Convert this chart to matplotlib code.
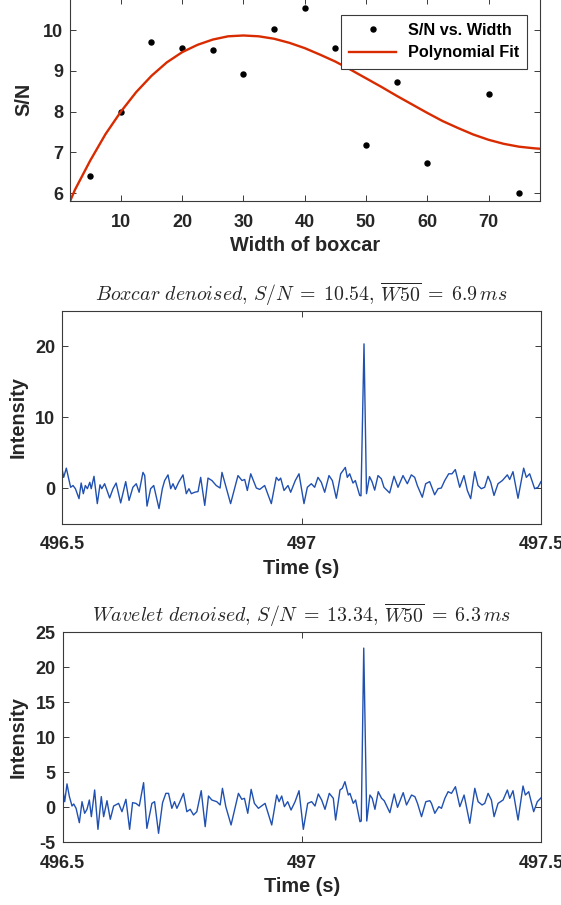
import numpy as np
import matplotlib
matplotlib.use('Agg')
import matplotlib.pyplot as plt

plt.rcParams['font.family'] = ['Liberation Sans', 'DejaVu Sans']
plt.rcParams['mathtext.fontset'] = 'cm'
plt.rcParams['axes.unicode_minus'] = False

##### data #####
# S/N vs. width of boxcar
width = [5, 10, 15, 20, 25, 30, 35, 40, 45, 50, 55, 60, 65, 70, 75]
snr = [6.43, 8.0, 9.72, 9.57, 9.51, 8.93, 10.03, 10.55, 9.57, 7.19, 8.74, 6.75, 9.11, 8.43, 6.01]

# polynomial fit curve (sampled from the figure)
fit_w = [1.7, 2.5, 5, 7.5, 10, 12.5, 15, 17.5, 20, 22.5, 25, 27.5, 30, 32.5, 35,
         37.5, 40, 42.5, 45, 47.5, 50, 52.5, 55, 57.5, 60, 62.5, 65, 67.5, 70,
         72.5, 75, 77.5, 78.4]
fit_snr = [5.8, 6.08, 6.8, 7.45, 8.0, 8.48, 8.88, 9.21, 9.46, 9.64, 9.77, 9.85, 9.87,
           9.85, 9.79, 9.69, 9.56, 9.4, 9.23, 9.03, 8.82, 8.61, 8.39, 8.18, 7.97,
           7.77, 7.6, 7.44, 7.31, 7.21, 7.14, 7.1, 7.09]

t0 = 496.5
# boxcar denoised series: time after t0 [s], intensity
boxcar_dt = [0.000, 0.0035, 0.009, 0.018, 0.023, 0.028, 0.0355, 0.040, 0.0445, 0.0487,
             0.053, 0.058, 0.061, 0.0668, 0.0737, 0.0793, 0.083, 0.089, 0.0995, 0.1065,
             0.113, 0.1225, 0.133, 0.140, 0.148, 0.155, 0.161, 0.169, 0.1727, 0.1775,
             0.185, 0.1915, 0.2025, 0.2095, 0.2143, 0.2213, 0.227, 0.2317, 0.2366, 0.2435,
             0.2526, 0.2595, 0.265, 0.270, 0.277, 0.284, 0.2895, 0.298, 0.3048, 0.313,
             0.322, 0.330, 0.334, 0.352, 0.3674, 0.3758, 0.3814, 0.3869, 0.394, 0.4057,
             0.4127, 0.4231, 0.437, 0.4474, 0.4524, 0.4565, 0.4635, 0.4718, 0.4774, 0.487,
             0.4948, 0.5052, 0.5122, 0.5205, 0.5275, 0.5344, 0.5414, 0.5484, 0.5574, 0.5644,
             0.5727, 0.5818, 0.5866, 0.5915, 0.5956, 0.6006, 0.6075, 0.6124, 0.6215, 0.6242,
             0.6305, 0.6357, 0.642, 0.6472, 0.6528, 0.6597, 0.6667, 0.6722, 0.684, 0.6931,
             0.7015, 0.7119, 0.7209, 0.7293, 0.7363, 0.7418, 0.7522, 0.7592, 0.7676, 0.778,
             0.785, 0.7919, 0.799, 0.8073, 0.8142, 0.8211, 0.8303, 0.8392, 0.8462, 0.8532,
             0.8616, 0.8685, 0.8754, 0.8824, 0.8894, 0.895, 0.9019, 0.9102, 0.9193, 0.9297,
             0.9346, 0.9415, 0.952, 0.9638, 0.9694, 0.9763, 0.9868, 0.9937, 1.000]
boxcar_val = [2.7, 1.5, 2.8, 0.1, 0.35, -0.1, -1.5, 0.7, -0.8, 0.35,
              -0.1, 0.8, -0.1, 1.65, -2.2, 0.45, -0.1, 0.6, -1.4, -0.1,
              0.7, -2.1, 0.9, -1.75, 0.1, 0.6, -0.6, 2.2, 1.75, -2.55,
              -0.1, 0.35, -2.9, -0.1, 1.05, 1.85, -0.1, 0.6, -0.2, 0.8,
              1.85, -0.8, -0.1, -0.8, -0.6, -0.5, 1.5, -2.45, 1.4, 1.05,
              0.35, 0.0, 2.2, -2.2, 1.75, 1.05, 1.2, -0.35, 2.0, 0.0,
              -0.2, 0.35, -2.2, 1.5, 1.05, 1.4, -0.35, 0.35, -0.6, 1.05,
              2.0, -2.2, 0.1, 0.6, 0.1, 1.5, 0.8, -0.6, 1.75, 1.05,
              -1.45, 2.0, 2.45, 2.9, 1.5, 2.0, 0.7, 1.05, -1.05, -1.1,
              20.3, -0.8, 1.6, 0.9, -0.3, 1.75, 1.3, 0.1, -0.7, 1.65,
              0.1, 1.75, 0.6, 1.85, 1.5, 0.35, -1.3, 0.6, 0.9, -0.95,
              -0.1, 0.0, 1.05, 2.0, 2.0, 2.6, 0.1, 1.75, -0.35, -1.5,
              2.3, 0.35, -0.1, 0.1, 1.65, 0.8, -1.05, 0.6, 1.05, 1.85,
              1.2, 2.3, -1.45, 2.8, 1.5, 2.0, -0.1, 0.1, 0.9]

# wavelet denoised series: time after t0 [s], intensity
wavelet_dt = [0.000, 0.0042, 0.009, 0.014, 0.0195, 0.023, 0.028, 0.0348, 0.0404, 0.0459,
              0.0508, 0.0557, 0.0599, 0.0668, 0.0737, 0.0807, 0.0856, 0.0926, 0.0995, 0.1065,
              0.1169, 0.1239, 0.1322, 0.1399, 0.1461, 0.1531, 0.1601, 0.1691, 0.176, 0.1865,
              0.1921, 0.2004, 0.2088, 0.2157, 0.2213, 0.2282, 0.2338, 0.2387, 0.2436, 0.2526,
              0.2595, 0.2666, 0.2735, 0.2804, 0.2896, 0.2979, 0.3048, 0.3117, 0.3221, 0.3292,
              0.334, 0.341, 0.352, 0.3674, 0.3744, 0.380, 0.3869, 0.394, 0.4008, 0.4092,
              0.4231, 0.437, 0.4474, 0.4524, 0.4579, 0.4635, 0.4704, 0.4774, 0.4858, 0.4941,
              0.5031, 0.5122, 0.5205, 0.5275, 0.5344, 0.5414, 0.5484, 0.5574, 0.5658, 0.5706,
              0.5797, 0.5846, 0.5901, 0.5971, 0.6006, 0.6075, 0.6124, 0.6215, 0.6242, 0.6294,
              0.6357, 0.6423, 0.6472, 0.6528, 0.6597, 0.6667, 0.6722, 0.684, 0.6931, 0.700,
              0.7119, 0.7188, 0.7293, 0.7363, 0.7418, 0.7502, 0.7592, 0.7676, 0.771, 0.778,
              0.7864, 0.7919, 0.799, 0.8058, 0.8128, 0.8211, 0.8303, 0.8392, 0.8441, 0.8511,
              0.8616, 0.8685, 0.8768, 0.8824, 0.8894, 0.8963, 0.9019, 0.9102, 0.9207, 0.9297,
              0.9346, 0.9415, 0.952, 0.9624, 0.9673, 0.9743, 0.9847, 0.9923, 1.000]
wavelet_val = [2.67, 0.76, 3.3, 1.48, 0.14, 0.43, -0.19, -2.24, 0.76, -0.9,
               -0.33, 1.0, -1.38, 2.43, -3.19, 1.48, -1.38, 0.9, -1.76, 0.14,
               0.52, -0.67, 1.1, -3.19, 0.62, 0.52, 0.14, 3.48, -3.05, 0.52,
               0.76, -3.76, 0.62, 1.95, 1.95, -0.19, 0.76, -0.19, 0.52, 1.95,
               -0.67, -0.33, -1.14, -0.67, 2.33, -2.81, 1.57, 1.0, 0.76, 0.29,
               2.67, 0.05, -2.57, 1.95, 1.1, 1.24, -0.9, 2.52, 0.52, -0.19,
               0.52, -2.57, 1.71, 0.76, 1.57, 0.05, 0.76, -0.43, 0.76, 2.33,
               -3.19, 0.52, 0.76, 0.14, 1.86, 1.0, -0.33, 1.95, 1.24, -1.86,
               2.43, 2.67, 3.62, 1.71, 1.95, 0.52, 1.0, -2.1, -2.0, 22.7,
               -2.0, 1.71, 1.24, -0.33, 2.19, 1.24, 0.9, -0.81, 1.86, -0.05,
               2.05, 0.29, 1.71, 1.48, 0.52, -1.38, 0.76, 0.9, 0.52, -0.9,
               0.05, -0.19, 1.24, 2.19, 1.95, 2.9, 0.05, 1.71, 0.05, -2.33,
               2.67, 0.76, 0.29, 0.52, 1.95, 1.0, -1.38, 0.52, 1.0, 2.43,
               1.24, 2.33, -1.86, 3.0, 1.71, 2.19, -0.67, 0.76, 1.3]

time_ticks = [496.5, 497, 497.5]
time_ticklabels = ['496.5', '497', '497.5']
######################################

txt_c = '#262626'
ax_c = '#3a3a3a'
sig_c = '#2050b0'
fit_c = '#d92b00'


def style_axes(ax):
    ax.tick_params(direction='in', top=True, right=True, length=4, width=0.7,
                   color=ax_c, labelsize=13, labelcolor=txt_c)
    ax.tick_params(axis='x', pad=9)
    ax.tick_params(axis='y', pad=5)
    for s in ax.spines.values():
        s.set_color(ax_c)
        s.set_linewidth(0.8)
    for lab in ax.get_xticklabels() + ax.get_yticklabels():
        lab.set_fontweight('bold')


def plot_signal(ax, dt, val, yticks, title):
    t = t0 + np.array(dt)
    ax.plot(t, val, color=sig_c, lw=1.0, solid_joinstyle='round')
    ax.set_xlim(496.5, 497.5)
    ax.set_ylim(-5, 25)
    ax.set_xticks(time_ticks)
    ax.set_xticklabels(time_ticklabels)
    ax.set_yticks(yticks)
    ax.set_xlabel('Time (s)', fontsize=14.3, fontweight='bold', color=txt_c)
    ax.set_ylabel('Intensity', fontsize=14.3, fontweight='bold', color=txt_c, labelpad=5.5)
    ax.set_title(title, fontsize=14.3, color=txt_c, pad=7)
    style_axes(ax)


fig = plt.figure(figsize=(5.61, 9.05), dpi=100)

# top panel: S/N vs width (its top edge sits just above the picture)
ax1 = fig.add_axes([70/561, 1 - 201.3/905, 470/561, 203.7/905])
ax1.plot(width, snr, 'o', color='k', ms=3.6, label='S/N vs. Width')
ax1.plot(fit_w, fit_snr, '-', color=fit_c, lw=1.7, solid_joinstyle='round',
         label='Polynomial Fit')
ax1.set_xlim(1.7, 78.4)
ax1.set_ylim(5.8, 10.8)
ax1.set_xticks([10, 20, 30, 40, 50, 60, 70])
ax1.set_yticks([6, 7, 8, 9, 10])
ax1.set_xlabel('Width of boxcar', fontsize=14.3, fontweight='bold', color=txt_c)
ax1.set_ylabel('S/N', fontsize=14.3, fontweight='bold', color=txt_c, labelpad=7)
style_axes(ax1)
leg = ax1.legend(loc='upper right', bbox_to_anchor=(527/561, 1 - 15/905),
                 bbox_transform=fig.transFigure, prop={'weight': 'bold', 'size': 11.7},
                 frameon=True, fancybox=False, edgecolor=ax_c, framealpha=1,
                 borderpad=0.5, handlelength=2.9, handletextpad=0.7,
                 labelspacing=0.45, borderaxespad=0)
leg.get_frame().set_linewidth(0.8)

# middle panel: boxcar denoised
ax2 = fig.add_axes([62/561, 1 - 523.5/905, 479/561, 213/905])
plot_signal(ax2, boxcar_dt, boxcar_val, [0, 10, 20],
            r'$Boxcar\ denoised,\, S/N\; =\; 10.54,\, \overline{W50}\; =\; 6.9\,ms$')

# bottom panel: wavelet denoised
ax3 = fig.add_axes([62.7/561, 1 - 842/905, 478.3/561, 210/905])
plot_signal(ax3, wavelet_dt, wavelet_val, [-5, 0, 5, 10, 15, 20, 25],
            r'$Wavelet\ denoised,\, S/N\; =\; 13.34,\, \overline{W50}\; =\; 6.3\,ms$')

fig.savefig('out.png', dpi=100)
